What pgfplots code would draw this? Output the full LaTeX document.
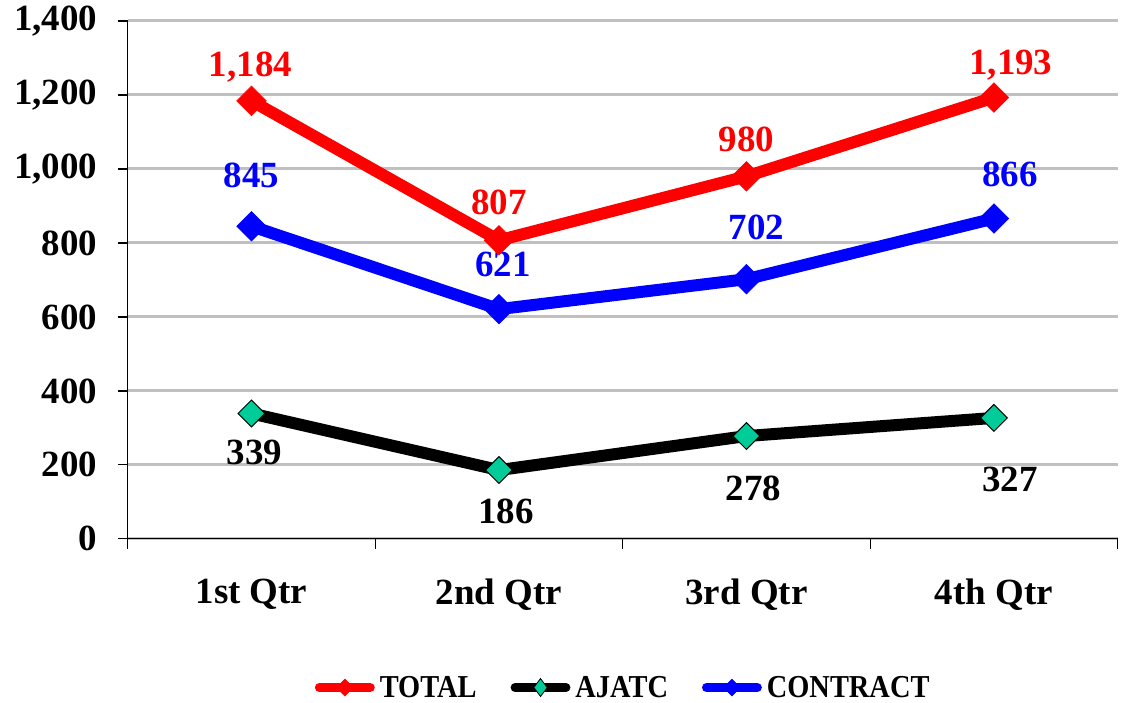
\documentclass[border=0pt]{standalone}
\usepackage{fontspec}
\setmainfont{Liberation Serif}
\usepackage{graphicx}
\usepackage{pgfplots}
\pgfplotsset{compat=1.18}
\definecolor{ajgreen}{RGB}{0,204,153}
\definecolor{gridgray}{RGB}{192,192,192}
\newcommand\bigf{\fontsize{37}{40}\selectfont\bfseries}
\newcommand\legf{\fontsize{32}{34}\selectfont\bfseries}
\begin{document}
\begin{tikzpicture}
\begin{axis}[name=ax, scale only axis, width=992pt, height=519pt,
  xmin=-0.5, xmax=3.5, ymin=0, ymax=1400,
  clip=false,
  axis x line*=bottom, axis y line*=left,
  axis line style={black, line width=1.2pt},
  ytick={0,200,...,1400},
  xtick={-0.5,0.5,1.5,2.5,3.5}, xticklabels={},
  extra x ticks={0,1,2,3},
  extra x tick labels={1st Qtr,2nd Qtr,3rd Qtr,4th Qtr},
  extra x tick style={major tick length=0pt, xticklabel style={yshift=-37pt}},
  tick align=outside, major tick length=10pt,
  tick style={black, line width=1.2pt},
  ymajorgrids, grid style={gridgray, line width=3pt},
  ticklabel style={font=\bigf},
  yticklabel style={xshift=-17pt},
  /pgf/number format/assume math mode=true,
  /pgf/number format/1000 sep={,},
  legend style={draw=none, fill=none, at={(0.5,-0.287)}, anchor=center,
    legend columns=-1, font=\legf, inner sep=0pt,
    /tikz/every even column/.append style={column sep=33pt},
    nodes={inner xsep=1pt}},
  legend image code/.code={\draw[mark repeat=2,mark phase=2,line cap=round,line width=9pt,#1] plot coordinates {(0pt,0pt) (25.5pt,0pt) (51pt,0pt)};},
]
\addplot[red, line width=12pt, mark=square*, mark size=10.5pt,
  mark options={rotate=45, solid, line width=0.5pt, fill=red, draw=red},
  legend image post style={line width=9pt, mark size=6pt}]
  coordinates {(0,1184) (1,807) (2,980) (3,1193)};
\addlegendentry{\hspace{4pt}\scalebox{0.89}[1]{TOTAL}}
\addplot[black, line width=12pt, mark=square*, mark size=9.5pt,
  mark options={rotate=45, solid, line width=1pt, fill=ajgreen, draw=black},
  legend image post style={line width=9pt, mark=diamond*, mark size=9pt, mark options={rotate=0, solid, line width=0.8pt, fill=ajgreen, draw=black}}]
  coordinates {(0,339) (1,186) (2,278) (3,327)};
\addlegendentry{\hspace{4pt}\scalebox{0.89}[1]{AJATC}}
\addplot[blue, line width=12pt, mark=square*, mark size=10.5pt,
  mark options={rotate=45, solid, line width=0.5pt, fill=blue, draw=blue},
  legend image post style={line width=9pt, mark size=6pt}]
  coordinates {(0,845) (1,621) (2,702) (3,866)};
\addlegendentry{\hspace{4pt}\scalebox{0.89}[1]{CONTRACT}}
% data labels
\begin{scope}[every node/.style={font=\bigf, anchor=base, inner sep=0pt}]
\node[red] at (axis cs:0,1184) [xshift=-1pt, yshift=24pt] {1,184};
\node[red] at (axis cs:1,807) [yshift=26pt] {807};
\node[red] at (axis cs:2,980) [yshift=25pt] {980};
\node[red] at (axis cs:3,1193) [xshift=17pt, yshift=23pt] {1,193};
\node[blue] at (axis cs:0,845) [yshift=39pt] {845};
\node[blue] at (axis cs:1,621) [xshift=4pt, yshift=33pt] {621};
\node[blue] at (axis cs:2,702) [xshift=10pt, yshift=40pt] {702};
\node[blue] at (axis cs:3,866) [xshift=16pt, yshift=32pt] {866};
\node[black] at (axis cs:0,339) [xshift=3pt, yshift=-51pt] {339};
\node[black] at (axis cs:1,186) [xshift=7pt, yshift=-54pt] {186};
\node[black] at (axis cs:2,278) [xshift=7pt, yshift=-65pt] {278};
\node[black] at (axis cs:3,327) [xshift=16pt, yshift=-74pt] {327};
\end{scope}
\end{axis}
\path (ax.south west) ++(-128pt,-164pt) rectangle ++(1121pt,704pt);
\end{tikzpicture}
\end{document}
